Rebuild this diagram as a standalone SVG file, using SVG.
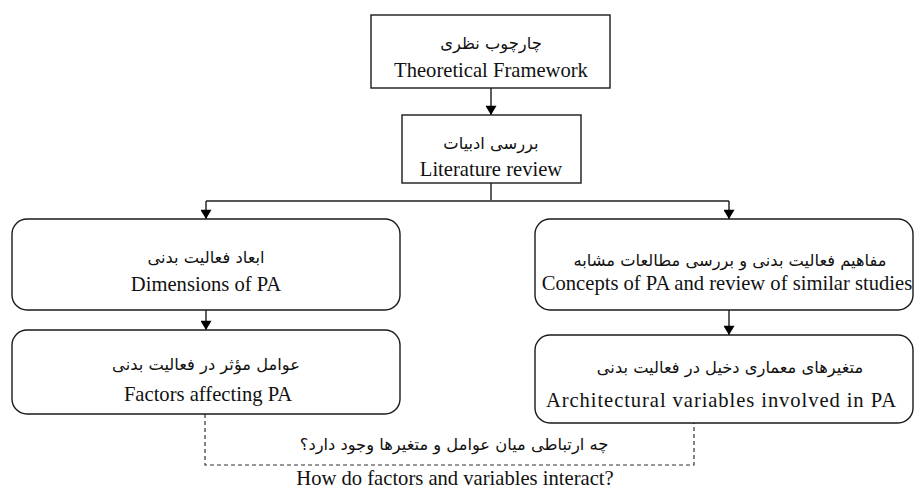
<svg xmlns="http://www.w3.org/2000/svg" width="915" height="489" viewBox="0 0 915 489">
<style>
.box{fill:#fff;stroke:#1a1a1a;stroke-width:1.4}
.en{font-family:"Liberation Serif","Times New Roman",serif;font-size:20.6px;fill:#111;text-anchor:middle}
.fa{font-family:"DejaVu Sans","Noto Sans",sans-serif;font-size:16.3px;fill:#111;text-anchor:middle}
.ln{fill:none;stroke:#1a1a1a;stroke-width:1.4}
.hl{fill:none;stroke:#555;stroke-width:1.8}
.dash{fill:none;stroke:#333;stroke-width:1.2;stroke-dasharray:4 3}
</style>
<defs>
<marker id="ah" viewBox="0 0 10 12" refX="10" refY="6" markerWidth="12" markerHeight="11" markerUnits="userSpaceOnUse" orient="auto">
<path d="M0,0 L10,6 L0,12 z" fill="#000"/>
</marker>
</defs>
<g id="connectors">
<line class="ln" x1="491" y1="88" x2="491" y2="115" marker-end="url(#ah)"/>
<polyline class="ln" points="491,183 491,201"/>
<line class="hl" x1="206" y1="201" x2="729" y2="201"/>
<line class="ln" x1="206" y1="201" x2="206" y2="219" marker-end="url(#ah)"/>
<line class="ln" x1="729" y1="201" x2="729" y2="219" marker-end="url(#ah)"/>
<line class="ln" x1="206" y1="310" x2="206" y2="330" marker-end="url(#ah)"/>
<line class="ln" x1="729" y1="310" x2="729" y2="335" marker-end="url(#ah)"/>
<polyline class="dash" points="205,414 205,465 694,465 694,423"/>
</g>
<g id="n1">
<rect class="box" x="371" y="15" width="239" height="73"/>
<text class="fa" x="491" y="49">چارچوب نظری</text>
<text class="en" x="491" y="77">Theoretical Framework</text>
</g>
<g id="n2">
<rect class="box" x="402" y="115" width="179" height="68"/>
<text class="fa" x="491" y="149">بررسی ادبیات</text>
<text class="en" x="491" y="176">Literature review</text>
</g>
<g id="n3">
<rect class="box" x="12" y="219" width="388" height="91" rx="15"/>
<text class="fa" x="206" y="263">ابعاد فعالیت بدنی</text>
<text class="en" x="206" y="291">Dimensions of PA</text>
</g>
<g id="n4">
<rect class="box" x="12" y="330" width="388" height="84" rx="15"/>
<text class="fa" x="206" y="370">عوامل مؤثر در فعالیت بدنی</text>
<text class="en" x="208" y="401">Factors affecting PA</text>
</g>
<g id="n5">
<rect class="box" x="535" y="219" width="378" height="91" rx="15"/>
<text class="fa" x="730" y="266">مفاهیم فعالیت بدنی و بررسی مطالعات مشابه</text>
<text class="en" x="727" y="290">Concepts of PA and review of similar studies</text>
</g>
<g id="n6">
<rect class="box" x="535" y="335" width="378" height="88" rx="15"/>
<text class="fa" x="730" y="373">متغیرهای معماری دخیل در فعالیت بدنی</text>
<text class="en" x="721" y="407" textLength="350" lengthAdjust="spacing">Architectural variables involved in PA</text>
</g>
<g id="q">
<text class="fa" x="454" y="450">چه ارتباطی میان عوامل و متغیرها وجود دارد؟</text>
<text class="en" x="455" y="485">How do factors and variables interact?</text>
</g>
</svg>
